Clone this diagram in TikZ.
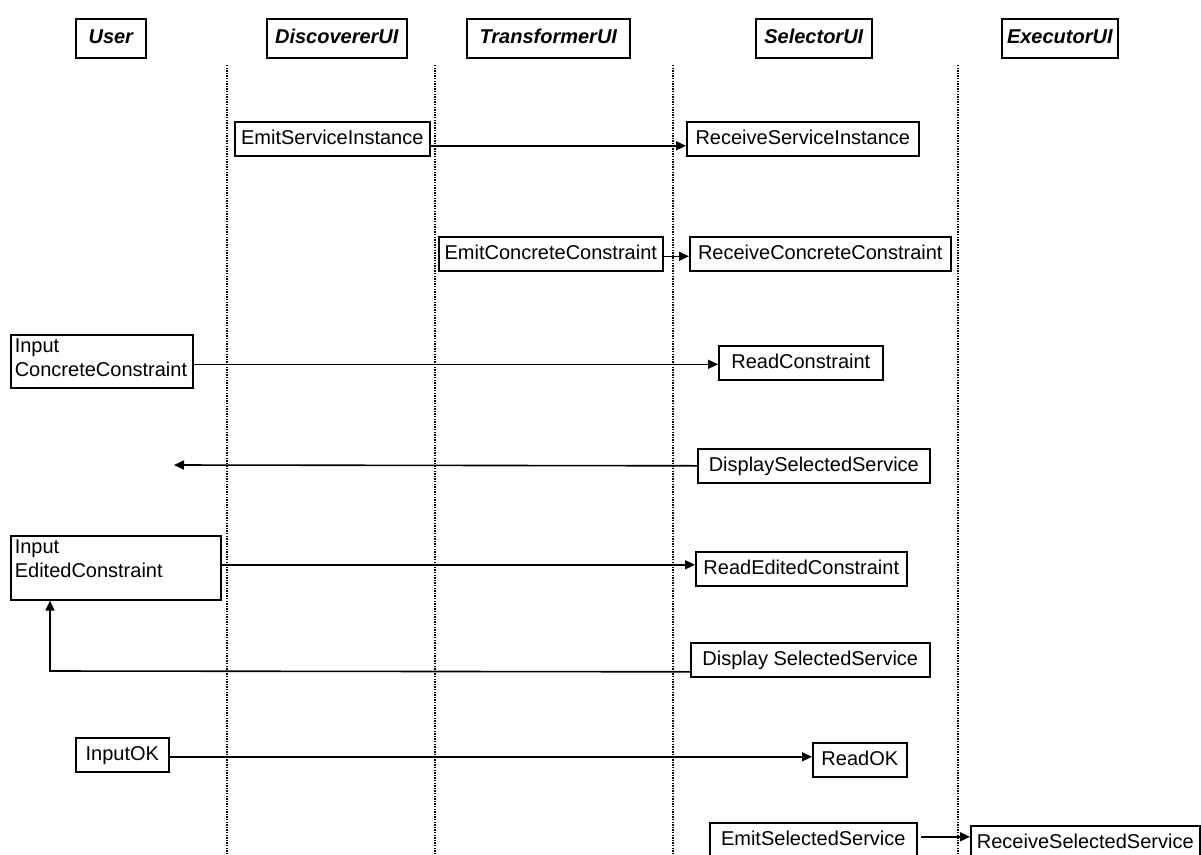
\documentclass[tikz,border=0pt]{standalone}
\usepackage{fontspec}
\setmainfont{Liberation Sans}
\usepackage{tikz}
\usetikzlibrary{positioning}
\usetikzlibrary{arrows.meta}

\begin{document}
\begin{tikzpicture}[x=1pt,y=-1pt,
  actor/.style={draw,line width=1.6pt,anchor=north west,inner xsep=2pt,inner ysep=10pt,
    text height=15pt,text depth=4pt,font=\fontsize{20}{24}\selectfont\bfseries\itshape},
  msgbox/.style={draw,line width=1.6pt,anchor=north west,inner xsep=2pt,inner ysep=7.5pt,
    text height=15pt,text depth=4pt,font=\fontsize{20}{24}\selectfont},
  inbox/.style={msgbox,align=left,inner ysep=3pt,inner xsep=4pt},
  msg/.style={line width=1.6pt,-{Triangle[length=10pt,width=9pt]}},
  lifeline/.style={line width=1.3pt,dash pattern=on 1.3pt off 1.3pt}]
\useasboundingbox (0,0) rectangle (1201,854);

% actors
\node[actor,minimum width=70pt]  (user)  at (75,18)   {User};
\node[actor,minimum width=140pt] (disc)  at (266,18)  {DiscovererUI};
\node[actor,minimum width=163pt] (trans) at (466,18)  {TransformerUI};
\node[actor,minimum width=116pt] (sel)   at (755,18)  {SelectorUI};
\node[actor,minimum width=116pt] (exec)  at (1001,18) {ExecutorUI};

% lifelines
\foreach \lx in {227,435,673,958}
  \draw[lifeline] (\lx,65) -- (\lx,854);

% service instance
\node[msgbox,minimum width=195pt] (emitSI) at (234,121) {EmitServiceInstance};
\node[msgbox,minimum width=232pt] (recvSI) at (686,121) {ReceiveServiceInstance};
\draw[msg] ([yshift=-7pt]emitSI.east) -- ([yshift=-7pt]emitSI.east -| recvSI.west);

% concrete constraint
\node[msgbox,minimum width=224pt] (emitCC) at (438,236) {EmitConcreteConstraint};
\node[msgbox,minimum width=261pt] (recvCC) at (689,236) {ReceiveConcreteConstraint};
\draw[msg] ([yshift=-2.5pt]emitCC.east) -- ([yshift=-2.5pt]emitCC.east -| recvCC.west);

% user input
\node[inbox,text width=174pt,text depth=32pt] (inCC) at (10,334) {Input\\ConcreteConstraint};
\node[msgbox,minimum width=164pt] (readC) at (718,345) {ReadConstraint};
\draw[msg] ([yshift=-3pt]inCC.east) -- ([yshift=-3pt]inCC.east -| readC.west);

\node[msgbox,minimum width=232pt] (dispSS) at (697,448) {DisplaySelectedService};
\coordinate (userRet) at (174,465);
\draw[msg] (dispSS.west) -- (userRet);

\node[inbox,text width=202pt,text depth=43pt] (inEC) at (10,535) {Input\\EditedConstraint};
\node[msgbox,minimum width=211pt] (readEC) at (695,551) {ReadEditedConstraint};
\draw[msg] ([yshift=3pt]inEC.east) -- ([yshift=3pt]inEC.east -| readEC.west);

\node[msgbox,minimum width=239pt] (dispSS2) at (690,642) {Display SelectedService};
\coordinate (retCorner) at (50,671);
\draw[msg] ([yshift=-12pt]dispSS2.west) -- (retCorner) -- (retCorner |- inEC.south);

\node[msgbox,minimum width=93pt] (inOK) at (75,737) {InputOK};
\node[msgbox,minimum width=94pt] (readOK) at (812,742) {ReadOK};
\draw[msg] ([yshift=-2pt]inOK.east) -- ([yshift=-2pt]inOK.east -| readOK.west);

% selected service
\node[msgbox,minimum width=207pt] (emitSS) at (709,822) {EmitSelectedService};
\node[msgbox,minimum width=229pt] (recvSS) at (970,825) {ReceiveSelectedService};
\draw[msg] ([xshift=3pt,yshift=3pt]emitSS.east) -- ([yshift=3pt]emitSS.east -| recvSS.west);
\end{tikzpicture}
\end{document}
